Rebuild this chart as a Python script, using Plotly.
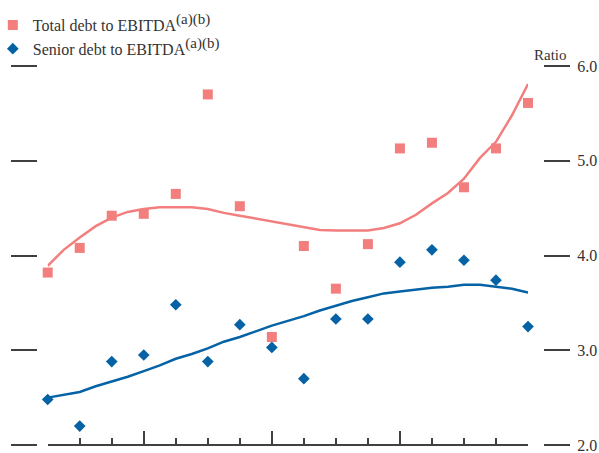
import plotly.graph_objects as go

# ---- data ----
quarters = list(range(16))
total_debt = [3.82, 4.08, 4.42, 4.44, 4.65, 5.70, 4.52, 3.14,
              4.10, 3.65, 4.12, 5.13, 5.19, 4.72, 5.13, 5.61]
senior_debt = [2.48, 2.20, 2.88, 2.95, 3.48, 2.88, 3.27, 3.03,
               2.70, 3.33, 3.33, 3.93, 4.06, 3.95, 3.74, 3.25]

trend_x = [0, 0.5, 1, 1.5, 2, 2.5, 3, 3.5, 4, 4.5, 5, 5.5, 6, 6.5, 7, 7.5,
           8, 8.5, 9, 9.5, 10, 10.5, 11, 11.5, 12, 12.5, 13, 13.5, 14, 14.5, 15]
total_trend = [3.89, 4.06, 4.19, 4.31, 4.40, 4.46, 4.49, 4.51, 4.51, 4.51,
               4.49, 4.45, 4.42, 4.39, 4.36, 4.33, 4.30, 4.27, 4.265, 4.265,
               4.265, 4.29, 4.34, 4.43, 4.55, 4.66, 4.81, 5.03, 5.20, 5.48, 5.81]
senior_trend = [2.50, 2.53, 2.56, 2.62, 2.67, 2.72, 2.78, 2.84, 2.91, 2.96,
                3.02, 3.09, 3.14, 3.20, 3.26, 3.31, 3.36, 3.42, 3.47, 3.52,
                3.56, 3.60, 3.62, 3.64, 3.66, 3.67, 3.69, 3.69, 3.67, 3.65, 3.61]

y_ticks = [2.0, 3.0, 4.0, 5.0, 6.0]
y_tick_labels = ["2.0", "3.0", "4.0", "5.0", "6.0"]
major_x_ticks = [3, 7, 11, 15]

SUP = '<sup><span style="font-size:15px">(a)(b)</span></sup>'
series_names = ["Total debt to EBITDA" + SUP,
                "Senior debt to EBITDA" + SUP]

# ---- style ----
W, H = 599, 453
PX_PER_UNIT = 94.75
PINK = "#F27E7E"
BLUE = "#0563A5"
AXIS = "#3f3f3f"
TEXT = "#333333"
FONT = "Liberation Serif"

fig = go.Figure()

fig.add_trace(go.Scatter(x=trend_x, y=total_trend, mode="lines",
                         line=dict(color=PINK, width=2.5), showlegend=False,
                         yaxis="y2", hoverinfo="skip"))
fig.add_trace(go.Scatter(x=trend_x, y=senior_trend, mode="lines",
                         line=dict(color=BLUE, width=2.5), showlegend=False,
                         yaxis="y2", hoverinfo="skip"))
fig.add_trace(go.Scatter(x=quarters, y=total_debt, mode="markers",
                         name=series_names[0], cliponaxis=False,
                         marker=dict(symbol="square", size=10, color=PINK)))
fig.add_trace(go.Scatter(x=quarters, y=senior_debt, mode="markers",
                         name=series_names[1], cliponaxis=False,
                         marker=dict(symbol="diamond", size=9, color=BLUE)))

# full-height y axis; 2.0 sits 8 px above the bottom, 6.0 at 66 px from the top
y_range = [2.0 - 8 / PX_PER_UNIT, 6.0 + 66 / PX_PER_UNIT]

fig.update_layout(
    width=W, height=H,
    margin=dict(l=0, r=0, t=0, b=0, pad=0, autoexpand=False),
    paper_bgcolor="white", plot_bgcolor="white",
    font=dict(family=FONT, size=16, color=TEXT),
    xaxis=dict(domain=[47.7 / W, 528 / W], range=[0, 15],
               showline=True, linecolor=AXIS, linewidth=1.5,
               ticks="inside", tickvals=major_x_ticks, ticklen=13,
               tickwidth=1.5, tickcolor=AXIS, showticklabels=False,
               showgrid=False, zeroline=False, anchor="free",
               position=8 / H, automargin=False,
               minor=dict(tickvals=quarters, ticks="inside", ticklen=6,
                          tickwidth=1.5, tickcolor=AXIS, showgrid=False)),
    yaxis=dict(domain=[0, 1], range=y_range, anchor="free",
               position=37 / W, side="left", ticks="outside", ticklen=26,
               tickwidth=1.5, tickcolor=AXIS, tickvals=y_ticks,
               showticklabels=False, showline=False, showgrid=False,
               zeroline=False, automargin=False),
    yaxis2=dict(overlaying="y", range=y_range, anchor="free",
                position=543 / W, side="right", ticks="outside", ticklen=26,
                tickwidth=1.5, tickcolor=AXIS, tickvals=y_ticks,
                ticktext=y_tick_labels, showline=False, showgrid=False,
                zeroline=False, automargin=False, ticklabelstandoff=4,
                ticklabeloverflow="allow",
                tickfont=dict(family=FONT, size=16, color=TEXT)),
    legend=dict(x=-0.012, y=1 - 8 / H, xanchor="left", yanchor="top",
                bgcolor="rgba(0,0,0,0)", font=dict(family=FONT, size=16, color=TEXT),
                tracegroupgap=0, itemwidth=30),
    annotations=[dict(text="Ratio", xref="paper", yref="paper",
                      x=569 / W, y=1 - 55 / H, xanchor="right", yanchor="middle",
                      showarrow=False, font=dict(family=FONT, size=15, color=TEXT))],
)

fig.write_html("out.html", config={"displayModeBar": False})

# remove the browser's default page margin so the figure sits at (0, 0)
with open("out.html", encoding="utf-8") as fh:
    page = fh.read()
page = page.replace("<body>", '<body style="margin:0;overflow:hidden">', 1)
with open("out.html", "w", encoding="utf-8") as fh:
    fh.write(page)
